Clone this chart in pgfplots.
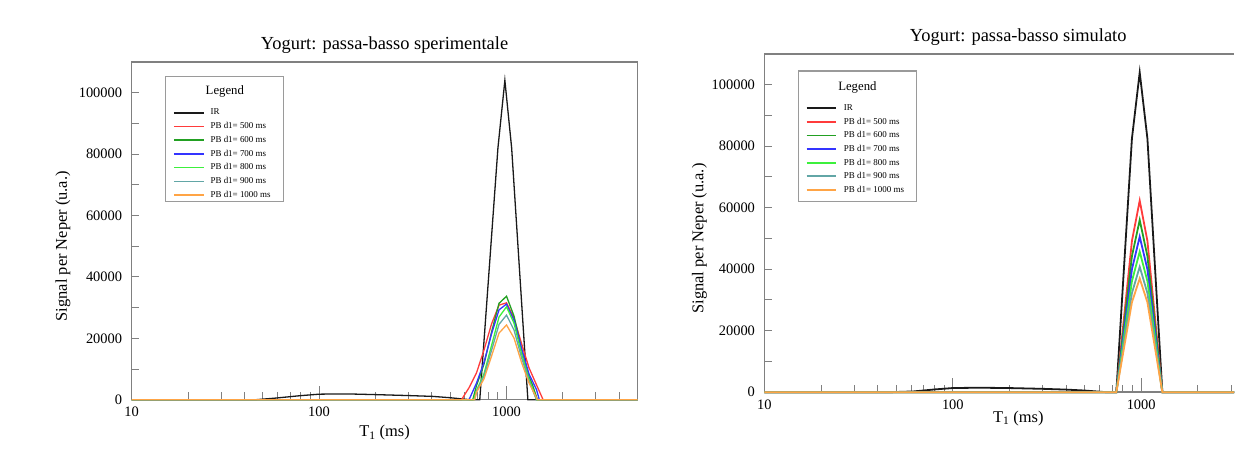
\documentclass[border=0pt]{standalone}
\usepackage{fontspec}
\setmainfont{Liberation Serif}
\usepackage{pgfplots}
\pgfplotsset{compat=1.18}
\definecolor{cIR}{HTML}{1A1A1A}
\definecolor{c500}{HTML}{FF3B3B}
\definecolor{c600}{HTML}{22A022}
\definecolor{c700}{HTML}{3434FF}
\definecolor{c800}{HTML}{3CF03C}
\definecolor{c900}{HTML}{62A6A6}
\definecolor{c1000}{HTML}{FFA445}
\definecolor{frame}{HTML}{808080}
\newcommand\tfont{\fontsize{14.5}{16}\selectfont}
\pgfplotsset{
  every axis/.append style={
    scale only axis, anchor=south west,
    ymin=0, ymax=110000, scaled y ticks=false,
    clip=false,
    axis line style={frame, line width=1.5bp},
    tick align=inside, xtick pos=bottom, ytick pos=left,
    tick style={frame, line width=1bp},
    major tick length=14bp, minor tick length=7.5bp,
    every major y tick/.append style={draw=none},
    xtick={10,100,1000}, xticklabels={\mbox{10},\mbox{100},\mbox{1000}},
    minor xtick={20,30,40,50,60,70,80,90,200,300,400,500,600,700,800,900,2000,3000,4000},
    ytick={0,20000,40000,60000,80000,100000},
    yticklabels={\mbox{0},\mbox{20000},\mbox{40000},\mbox{60000},\mbox{80000},\mbox{100000}},
    minor ytick={10000,20000,30000,40000,50000,60000,70000,80000,90000,100000},
    ticklabel style={font=\tfont},
    xticklabel style={yshift=-4bp},
    yticklabel style={xshift=-6bp},
    every axis title shift=0pt,
    title style={font=\fontsize{18.5}{20}\selectfont, anchor=base, yshift=12.5bp},
    label style={font=\fontsize{16.5}{18}\selectfont},
    legend cell align=left,
    legend style={draw=none, fill=none, inner sep=0pt, font=\fontsize{9}{10}\selectfont, anchor=north west},
  }
}
\begin{document}
\begin{tikzpicture}
\path (0bp,0bp) rectangle (1235bp,453bp);
% ---------------- left panel ----------------
\begin{axis}[xmode=log, xmin=10, xmax=5000, at={(131.7bp,53bp)}, width=506.3bp, height=338bp,
  title={Yogurt: passa-basso sperimentale},
  title style={at={(0.5,1)}},
  xlabel={T\textsubscript{1} (ms)},
  ylabel={Signal per Neper (u.a.)},
  xlabel style={at={(axis description cs:0.5,-0.0976)}, anchor=center},
  ylabel style={at={(axis description cs:-0.1357,0.4545)}, anchor=center},
  legend image code/.code={\draw[#1, line width=1.5bp] (0bp,0bp) -- (30bp,0bp);},
  legend style={at={(0.0816,0.8703)}, column sep=6bp, nodes={inner sep=0pt, minimum height=13.7bp}},
  every axis plot/.append style={line width=1.3bp}]
\addplot[cIR] coordinates {(10,0)(46,0)(59,540)(79,1300)(100,1800)(114,1850)(150,1850)(202,1650)(300,1350)(404,1080)(500,650)(583,230)(640,0)(720,0)(900,82000)(980,104000)(1065,82000)(1300,0)(5000,0)};
\addlegendentry{IR}
\addplot[c500] coordinates {(10,0)(575.4,0)(631,3900)(691.8,8740)(758.6,16200)(831.8,24650)(912,30800)(1000,31560)(1096.5,26550)(1202.3,18330)(1318.3,10390)(1445.4,4830)(1567,0)(5000,0)};
\addlegendentry{PB d1= 500 ms}
\addplot[c600] coordinates {(10,0)(660.7,0)(691.8,4600)(758.6,11590)(831.8,22000)(912,31380)(1000,33700)(1096.5,27230)(1202.3,16550)(1318.3,7570)(1380.4,4600)(1462.2,0)(5000,0)};
\addlegendentry{PB d1= 600 ms}
\addplot[c700] coordinates {(10,0)(631,0)(691.8,5410)(758.6,12200)(831.8,21410)(912,29270)(1000,31150)(1096.5,25830)(1202.3,16680)(1318.3,8390)(1445.4,3290)(1496.2,0)(5000,0)};
\addlegendentry{PB d1= 700 ms}
\addplot[c800] coordinates {(10,0)(668.3,0)(691.8,2990)(758.6,8460)(831.8,17600)(912,26930)(1000,30240)(1096.5,24930)(1202.3,15090)(1318.3,6720)(1445.4,0)(5000,0)};
\addlegendentry{PB d1= 800 ms}
\addplot[c900] coordinates {(10,0)(676.1,0)(691.8,2720)(758.6,7700)(831.8,16040)(912,24540)(1000,27550)(1096.5,22710)(1202.3,13740)(1318.3,6130)(1445.4,0)(5000,0)};
\addlegendentry{PB d1= 900 ms}
\addplot[c1000] coordinates {(10,0)(676.1,0)(691.8,2410)(758.6,6810)(831.8,14180)(912,21690)(1000,24350)(1096.5,20080)(1202.3,12150)(1318.3,5420)(1462.2,0)(5000,0)};
\addlegendentry{PB d1= 1000 ms}
\end{axis}
% ---------------- right panel (cut at the picture's right edge) ----------------
\begin{axis}[xmode=log, xmin=10, xmax=3114, at={(765bp,60.5bp)}, width=470bp, height=338.5bp,
  axis y line*=left,
  title={Yogurt: passa-basso simulato},
  title style={at={(0.5404,1)}},
  xlabel={T\textsubscript{1} (ms)},
  ylabel={Signal per Neper (u.a.)},
  xlabel style={at={(axis description cs:0.5404,-0.0768)}, anchor=center},
  ylabel style={at={(axis description cs:-0.1383,0.4545)}, anchor=center},
  legend image code/.code={\draw[#1, line width=1.8bp] (0bp,0bp) -- (30bp,0bp);},
  legend style={at={(0.0872,0.8598)}, column sep=6.6bp, nodes={inner sep=0pt, minimum height=13.6bp}},
  every axis plot/.append style={line width=1.8bp}]
\addplot[cIR] coordinates {(10,0)(46,0)(62,260)(80,900)(100,1360)(138,1460)(200,1350)(300,1100)(400,850)(500,550)(655,0)(738,0)(893,82500)(982,104000)(1079,82500)(1295,0)(3114,0)};
\addlegendentry{IR}
\addplot[c500] coordinates {(10,0)(738,0)(893,49200)(982,62300)(1079,49200)(1295,0)(3114,0)};
\addlegendentry{PB d1= 500 ms}
\addplot[c600] coordinates {(10,0)(738,0)(893,44240)(982,56000)(1079,44240)(1295,0)(3114,0)};
\addlegendentry{PB d1= 600 ms}
\addplot[c700] coordinates {(10,0)(738,0)(893,39970)(982,50600)(1079,39970)(1295,0)(3114,0)};
\addlegendentry{PB d1= 700 ms}
\addplot[c800] coordinates {(10,0)(738,0)(893,36100)(982,45700)(1079,36100)(1295,0)(3114,0)};
\addlegendentry{PB d1= 800 ms}
\addplot[c900] coordinates {(10,0)(738,0)(893,32230)(982,40800)(1079,32230)(1295,0)(3114,0)};
\addlegendentry{PB d1= 900 ms}
\addplot[c1000] coordinates {(10,0)(738,0)(893,29230)(982,37000)(1079,29230)(1295,0)(3114,0)};
\addlegendentry{PB d1= 1000 ms}
\end{axis}
% legend frames and titles
\draw[frame!80, line width=1.2bp] (165.7bp,376.3bp) rectangle (284bp,251.3bp);
\node[font=\fontsize{12.8}{14}\selectfont] at (225bp,361.3bp) {Legend};
\draw[frame!80, line width=1.2bp] (799bp,382bp) rectangle (917bp,251.3bp);
\node[font=\fontsize{12.8}{14}\selectfont] at (858bp,365.3bp) {Legend};
\end{tikzpicture}
\end{document}
